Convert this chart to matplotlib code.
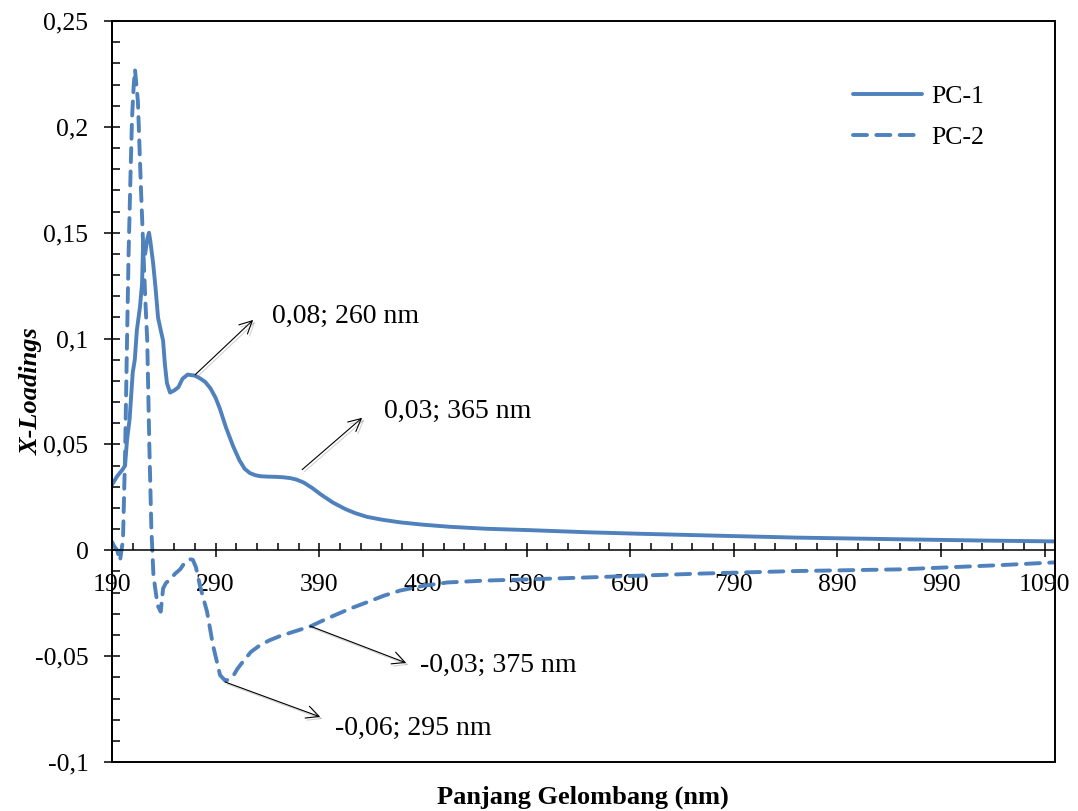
import numpy as np
import matplotlib
matplotlib.use('Agg')
from matplotlib import pyplot as plt
from matplotlib.patches import Rectangle
import matplotlib.patheffects as pe

plt.rcParams['font.family'] = 'Liberation Serif'

# PC-1 loadings
pc1_nm = [190, 195, 200, 202.6, 204.5, 207, 210, 212, 214, 217, 219, 220, 222, 224, 225.7,
          227, 229.6, 232, 234.4, 237, 239.3, 241, 243, 246, 250, 254, 258, 263, 270, 275,
          280, 285, 290, 294, 300, 307, 313, 318, 323, 328, 333, 340, 348, 355, 362, 368,
          375, 383, 392, 403, 415, 425, 436, 450, 468, 490, 516, 550, 594, 650, 700, 758,
          850, 951, 1030, 1100]
pc1_val = [0.031, 0.035, 0.038, 0.040, 0.052, 0.062, 0.084, 0.090, 0.104, 0.115, 0.126,
           0.145, 0.140, 0.147, 0.150, 0.146, 0.136, 0.124, 0.110, 0.104, 0.099, 0.088,
           0.079, 0.0745, 0.0755, 0.077, 0.081, 0.083, 0.0825, 0.0812, 0.0795, 0.0765,
           0.072, 0.067, 0.058, 0.049, 0.0425, 0.0385, 0.0365, 0.0355, 0.0350, 0.0348,
           0.0347, 0.0345, 0.0341, 0.0334, 0.0320, 0.0295, 0.0262, 0.0226, 0.0195, 0.0175,
           0.0158, 0.0145, 0.0132, 0.0121, 0.0111, 0.0102, 0.0095, 0.0085, 0.0078, 0.0071,
           0.006, 0.0052, 0.0046, 0.0042]

# PC-2 loadings
pc2_nm = [190, 192, 195, 197.7, 200.6, 202.6, 204.5, 206, 208, 209.3, 211, 212.2, 215,
          218, 220, 222, 224, 226, 228, 230, 234, 237, 239.3, 242, 246, 251, 255.7, 260,
          265.3, 268, 271, 275, 281.7, 287.5, 294.3, 299.1, 302, 306.8, 311, 316.5, 324,
          332.9, 342, 352.2, 365, 381.2, 392, 403.4, 420, 436.3, 452, 468.1, 490, 513.5,
          550, 593.7, 650, 757.8, 850, 951, 1047.5, 1100]
pc2_val = [0.004, 0.002, 0.0, -0.005, 0.005, 0.045, 0.099, 0.14, 0.18, 0.204, 0.22, 0.227,
           0.212, 0.17, 0.145, 0.12, 0.099, 0.05, 0.01, -0.012, -0.026, -0.029, -0.018,
           -0.0155, -0.0137, -0.011, -0.009, -0.006, -0.0042, -0.0045, -0.008, -0.017,
           -0.029, -0.045, -0.059, -0.0615, -0.0612, -0.0595, -0.056, -0.0525, -0.048,
           -0.0448, -0.0425, -0.0405, -0.0385, -0.036, -0.0335, -0.031, -0.0275, -0.0245,
           -0.0215, -0.019, -0.0168, -0.0152, -0.0143, -0.0137, -0.0128, -0.011, -0.0098,
           -0.009, -0.007, -0.0057]

xticks = [190, 290, 390, 490, 590, 690, 790, 890, 990, 1090]
yticks = [-0.1, -0.05, 0, 0.05, 0.1, 0.15, 0.2, 0.25]
ytick_labels = ['-0,1', '-0,05', '0', '0,05', '0,1', '0,15', '0,2', '0,25']

# annotation: text, curve point, arrow head, text position
notes = [('0,08; 260 nm', (270.2, 0.0829), (326.2, 0.1088), (344.5, 0.1107)),
         ('0,03; 365 nm', (373.5, 0.0381), (431.4, 0.0626), (452.7, 0.0655)),
         ('-0,03; 375 nm', (381.2, -0.0358), (473.9, -0.0532), (487.4, -0.0546)),
         ('-0,06; 295 nm', (299.1, -0.0622), (390.9, -0.0787), (405.3, -0.0843))]

blue = '#4F81BD'
fig = plt.figure(figsize=(10.78, 8.11), dpi=100)
ax = fig.add_axes([0.1039, 0.0604, 0.8748, 0.9137])

ax.plot(pc1_nm, pc1_val, color=blue, lw=2.8, solid_capstyle='round',
        solid_joinstyle='round', label='PC-1')
ax.plot(pc2_nm, pc2_val, color=blue, lw=2.8, dashes=(3.6, 2.4), dash_capstyle='round',
        dash_joinstyle='round', label='PC-2')

ax.set_xlim(190, 1100)
ax.set_ylim(-0.1, 0.25)

# x axis sits at y = 0, frame drawn separately
ax.spines['bottom'].set_position(('data', 0))
ax.spines['bottom'].set_linewidth(1.1)
ax.spines['left'].set_linewidth(1.4)
ax.spines['top'].set_visible(False)
ax.spines['right'].set_visible(False)
ax.add_patch(Rectangle((0, 0), 1, 1, transform=ax.transAxes, fill=False,
                       edgecolor='black', lw=1.4, clip_on=False, zorder=5))

ax.set_xticks(xticks)
ax.set_xticklabels([str(t) for t in xticks])
ax.set_xticks(np.arange(190, 1100, 20), minor=True)
ax.set_yticks(yticks)
ax.set_yticklabels(ytick_labels)
ax.set_yticks(np.arange(-0.1, 0.2501, 0.01), minor=True)

ax.tick_params(axis='x', which='major', direction='inout', length=10, width=1.1,
               labelsize=18.5, pad=12)
ax.tick_params(axis='x', which='minor', direction='in', length=5, width=1.1)
ax.tick_params(axis='y', which='major', direction='inout', length=12, width=1.1,
               labelsize=18.5, pad=11)
ax.tick_params(axis='y', which='minor', direction='in', length=6, width=1.1)

ax.set_ylabel('X-Loadings', fontsize=19, fontweight='bold', fontstyle='italic')
ax.yaxis.set_label_coords(-0.074, 0.5)
fig.text(0.541, 0.002, 'Panjang Gelombang (nm)', fontsize=19, fontweight='bold',
         ha='center', va='bottom')

for txt, tail, head, pos in notes:
    ax.annotate('', xy=head, xytext=tail,
                arrowprops=dict(arrowstyle='->,head_length=0.6,head_width=0.3',
                                color='black', lw=0.8, mutation_scale=15,
                                shrinkA=0, shrinkB=0,
                                path_effects=[pe.SimpleLineShadow(offset=(1.5, -1.5),
                                                                  shadow_color='gray',
                                                                  alpha=0.35),
                                              pe.Normal()]))
    ax.text(pos[0], pos[1], txt, fontsize=20, ha='left', va='center')

ax.legend(loc='center left', bbox_to_anchor=(0.791, 0.8557),
          bbox_transform=fig.transFigure, frameon=False, fontsize=18.5,
          handlelength=2.7, handletextpad=0.35, labelspacing=0.7,
          borderpad=0, borderaxespad=0)

plt.savefig('out.png', dpi=100)
